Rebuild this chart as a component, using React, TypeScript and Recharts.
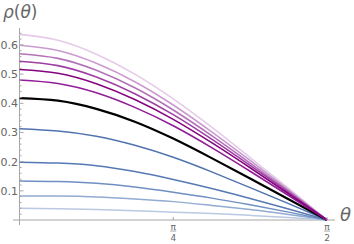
import { LineChart, Line, XAxis, YAxis, ReferenceLine } from "recharts";

// theta samples, 0 .. pi/2 in steps of pi/16
const theta = [0, Math.PI / 16, Math.PI / 8, (3 * Math.PI) / 16, Math.PI / 4, (5 * Math.PI) / 16, (3 * Math.PI) / 8, (7 * Math.PI) / 16, Math.PI / 2];

const blue5 = [0.04, 0.039, 0.036, 0.032, 0.027, 0.022, 0.016, 0.009, 0];
const blue4 = [0.082, 0.082, 0.079, 0.072, 0.063, 0.05, 0.036, 0.019, 0];
const blue3 = [0.134, 0.132, 0.126, 0.113, 0.095, 0.075, 0.052, 0.027, 0];
const blue2 = [0.198, 0.195, 0.186, 0.166, 0.139, 0.108, 0.074, 0.038, 0];
const blue1 = [0.313, 0.305, 0.287, 0.256, 0.215, 0.165, 0.111, 0.056, 0];
const critical = [0.418, 0.409, 0.381, 0.337, 0.279, 0.212, 0.142, 0.071, 0];
const purple6 = [0.48, 0.468, 0.436, 0.386, 0.323, 0.248, 0.167, 0.084, 0];
const purple5 = [0.516, 0.503, 0.467, 0.413, 0.345, 0.265, 0.179, 0.09, 0];
const purple4 = [0.544, 0.529, 0.49, 0.433, 0.361, 0.277, 0.187, 0.095, 0];
const purple3 = [0.57, 0.554, 0.513, 0.453, 0.377, 0.289, 0.195, 0.099, 0];
const purple2 = [0.599, 0.581, 0.537, 0.474, 0.394, 0.302, 0.204, 0.103, 0];
const purple1 = [0.636, 0.616, 0.568, 0.5, 0.415, 0.318, 0.214, 0.108, 0];

const xTicks = [Math.PI / 4, Math.PI / 2];
const xTickDenoms = ["4", "2"];
const yMajor = [0.1, 0.2, 0.3, 0.4, 0.5, 0.6];
const yMinor = [0.02, 0.04, 0.06, 0.08, 0.12, 0.14, 0.16, 0.18, 0.22, 0.24, 0.26, 0.28, 0.32, 0.34, 0.36, 0.38, 0.42, 0.44, 0.46, 0.48, 0.52, 0.54, 0.56, 0.58, 0.62, 0.64];

const series = [
  { key: "blue5", values: blue5, color: "#b9c9e2", width: 1.5 },
  { key: "blue4", values: blue4, color: "#92abd2", width: 1.5 },
  { key: "blue3", values: blue3, color: "#6f8fc2", width: 1.5 },
  { key: "blue2", values: blue2, color: "#5679b5", width: 1.5 },
  { key: "blue1", values: blue1, color: "#5073ae", width: 1.5 },
  { key: "critical", values: critical, color: "#000000", width: 2.2 },
  { key: "purple1", values: purple1, color: "#e5cbe8", width: 1.6 },
  { key: "purple2", values: purple2, color: "#cb9bcf", width: 1.6 },
  { key: "purple3", values: purple3, color: "#b473b9", width: 1.6 },
  { key: "purple4", values: purple4, color: "#9d3fa3", width: 1.6 },
  { key: "purple6", values: purple6, color: "#911c97", width: 1.6 },
  { key: "purple5", values: purple5, color: "#86057f", width: 1.6 },
];

const data = theta.map((t, i) => {
  const row: Record<string, number> = { theta: t };
  series.forEach((s) => (row[s.key] = s.values[i]));
  return row;
});

const AXIS = "#a6a6a6";
const LABEL = "#666666";
const FONT = "'DejaVu Sans', sans-serif";
const Y_AXIS_X = 19.5; // pixel where theta = 0
const X_AXIS_Y = 220; // pixel where rho = 0

const YTick = (props: any) => {
  const { y, payload } = props;
  const major = yMajor.some((v) => Math.abs(v - payload.value) < 1e-6);
  return (
    <g>
      <line x1={Y_AXIS_X} x2={Y_AXIS_X + (major ? 4 : 2)} y1={y} y2={y} stroke={AXIS} strokeWidth={1} />
      {major && (
        <text x={18} y={y} dy={4} textAnchor="end" fontSize={11} fill={LABEL} fontFamily={FONT}>
          {payload.value.toFixed(1)}
        </text>
      )}
    </g>
  );
};

const XTick = (props: any) => {
  const { x, index } = props;
  return (
    <g>
      <line x1={x} x2={x} y1={X_AXIS_Y} y2={X_AXIS_Y - 3} stroke={AXIS} strokeWidth={1} />
      <text x={x} y={X_AXIS_Y + 10} textAnchor="middle" fontSize={9} fill={LABEL} fontFamily={FONT}>
        π
      </text>
      <line x1={x - 3} x2={x + 3} y1={X_AXIS_Y + 11} y2={X_AXIS_Y + 11} stroke={LABEL} strokeWidth={0.6} />
      <text x={x} y={X_AXIS_Y + 21} textAnchor="middle" fontSize={9} fill={LABEL} fontFamily={FONT}>
        {xTickDenoms[index] ?? ""}
      </text>
    </g>
  );
};

export default function App() {
  return (
    <div style={{ position: "absolute", left: 0, top: 0, width: 354, height: 244, background: "#fff" }}>
      <LineChart width={354} height={244} data={data} margin={{ top: 28, right: 19, bottom: 0, left: 0 }}>
        <XAxis
          type="number"
          dataKey="theta"
          domain={[-0.0332, 1.6117]}
          ticks={xTicks}
          allowDataOverflow
          axisLine={false}
          tickLine={false}
          tickSize={0}
          tickMargin={0}
          height={19}
          tick={<XTick />}
          interval={0}
        />
        <YAxis
          type="number"
          domain={[-0.0171, 0.658]}
          ticks={[...yMajor, ...yMinor]}
          allowDataOverflow
          axisLine={false}
          tickLine={false}
          tickSize={0}
          tickMargin={0}
          width={13}
          tick={<YTick />}
          interval={0}
        />
        <ReferenceLine y={0} stroke={AXIS} strokeWidth={1} />
        <ReferenceLine x={0} stroke={AXIS} strokeWidth={1} />
        {series.map((s) => (
          <Line
            key={s.key}
            type="natural"
            dataKey={s.key}
            stroke={s.color}
            strokeWidth={s.width}
            dot={false}
            isAnimationActive={false}
          />
        ))}
      </LineChart>
      <div
        style={{
          position: "absolute",
          left: 3,
          top: 1,
          fontFamily: FONT,
          fontSize: 17,
          color: LABEL,
          lineHeight: "22px",
          whiteSpace: "nowrap",
        }}
      >
        <i>ρ</i>(<i>θ</i>)
      </div>
      <div
        style={{
          position: "absolute",
          left: 340,
          top: 204,
          fontFamily: FONT,
          fontSize: 18,
          color: LABEL,
          fontStyle: "italic",
          lineHeight: "22px",
        }}
      >
        θ
      </div>
    </div>
  );
}
